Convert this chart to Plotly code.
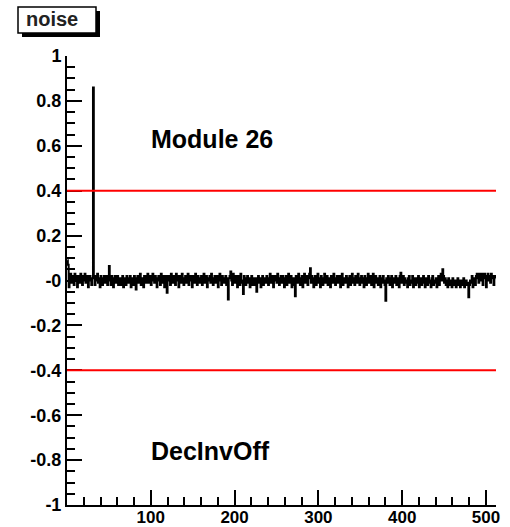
import numpy as np
import plotly.graph_objects as go

# noise per channel (512 channels)
noise = [
    0.09, 0.07, -0.03, 0.02, 0.03, -0.01, 0.02, 0.01, -0.02, 0.03, 0.00, 0.02, -0.03, 0.01, 0.02, -0.01,
    0.03, 0.01, -0.02, 0.02, 0.00, 0.03, -0.01, 0.01, 0.02, -0.03, 0.01, 0.02, 0.00, -0.02, 0.01, 0.86,
    0.01, -0.02, 0.02, 0.00, 0.03, -0.01, 0.01, -0.03, 0.02, 0.01, -0.02, 0.00, 0.02, -0.01, 0.01, 0.02,
    -0.02, 0.00, 0.065, 0.01, -0.02, 0.02, 0.00, -0.03, 0.01, 0.02, -0.01, 0.00, 0.02, -0.02, 0.01, 0.00,
    -0.02, 0.01, 0.02, -0.03, 0.00, 0.01, -0.02, 0.02, 0.01, -0.01, 0.00, 0.02, -0.03, 0.01, 0.00, -0.02,
    0.02, 0.01, -0.04, 0.00, 0.02, -0.01, 0.01, 0.03, -0.02, 0.00, 0.01, -0.03, 0.02, 0.00, -0.01, 0.02,
    0.03, -0.01, 0.00, 0.02, -0.02, 0.01, 0.03, 0.00, -0.01, 0.02, 0.01, -0.03, 0.00, 0.02, 0.01, -0.02,
    0.03, 0.00, -0.01, 0.02, -0.03, 0.01, 0.02, -0.055, 0.00, 0.02, 0.01, -0.02, 0.03, 0.00, -0.01, 0.02,
    0.01, -0.02, 0.03, 0.00, 0.02, -0.03, 0.01, 0.02, -0.01, 0.03, 0.00, -0.02, 0.01, 0.02, -0.01, 0.00,
    0.03, -0.02, 0.01, 0.02, 0.00, -0.03, 0.02, 0.01, -0.01, 0.03, 0.00, -0.02, 0.02, 0.01, -0.01, 0.00,
    0.02, -0.02, 0.01, 0.03, -0.01, 0.00, 0.02, -0.03, 0.01, 0.00, 0.02, -0.01, 0.03, 0.00, -0.02, 0.01,
    0.02, -0.01, 0.00, 0.02, -0.03, 0.01, 0.03, 0.00, -0.02, 0.02, 0.01, -0.01, 0.00, 0.02, -0.02, 0.01,
    -0.085, 0.01, 0.02, 0.04, 0.00, -0.02, 0.03, 0.01, -0.01, 0.02, 0.00, -0.03, 0.02, 0.01, -0.02, 0.03,
    0.00, -0.01, -0.06, 0.02, 0.01, -0.02, 0.00, 0.02, -0.01, 0.01, -0.03, 0.00, 0.02, -0.02, 0.01, 0.00,
    -0.02, 0.01, -0.05, 0.00, 0.02, -0.01, 0.01, -0.03, 0.00, 0.02, -0.02, 0.01, 0.00, -0.01, 0.02, 0.00,
    -0.02, 0.01, 0.03, -0.01, 0.00, 0.02, -0.03, 0.01, 0.02, 0.00, -0.01, 0.03, 0.01, -0.02, 0.00, 0.02,
    -0.01, 0.02, 0.00, -0.03, 0.01, 0.02, -0.02, 0.00, 0.03, -0.01, 0.01, 0.02, -0.03, 0.00, 0.01, -0.02,
    -0.07, 0.02, 0.00, -0.01, 0.03, 0.01, -0.02, 0.00, 0.02, -0.03, 0.01, 0.03, -0.01, 0.00, 0.02, -0.02,
    0.01, 0.03, 0.055, -0.01, 0.02, 0.00, -0.03, 0.01, 0.02, -0.02, 0.00, 0.03, -0.01, 0.01, -0.03, 0.02,
    0.00, -0.02, 0.01, 0.03, -0.01, 0.00, 0.02, -0.02, 0.01, 0.00, -0.03, 0.02, 0.01, -0.01, 0.03, 0.00,
    -0.02, 0.01, 0.02, -0.01, 0.00, 0.02, -0.03, 0.01, 0.03, -0.02, 0.00, 0.01, -0.01, 0.02, 0.00, -0.03,
    0.01, 0.02, -0.02, 0.00, 0.03, -0.01, 0.01, -0.02, 0.02, 0.00, -0.01, 0.03, 0.01, -0.02, 0.00, 0.02,
    -0.01, 0.01, -0.03, 0.02, 0.00, -0.02, 0.01, 0.03, -0.01, 0.00, 0.02, -0.02, 0.01, 0.03, -0.03, 0.00,
    0.02, -0.01, 0.01, -0.02, 0.00, 0.02, -0.03, 0.01, -0.01, 0.02, 0.00, -0.02, -0.09, 0.01, -0.01, 0.02,
    0.00, -0.02, 0.01, 0.02, -0.03, 0.00, 0.01, -0.01, 0.02, -0.02, 0.00, 0.01, -0.03, 0.02, 0.035, -0.01,
    0.00, 0.02, -0.02, 0.01, -0.01, 0.00, -0.03, 0.01, 0.02, -0.02, 0.00, -0.01, 0.02, -0.03, 0.01, 0.00,
    -0.02, 0.01, -0.01, 0.02, -0.03, 0.00, 0.01, -0.02, 0.00, 0.02, -0.01, -0.03, 0.01, 0.00, -0.02, 0.02,
    -0.01, 0.00, -0.03, 0.01, 0.02, -0.02, 0.00, -0.01, 0.01, -0.03, 0.00, 0.02, -0.02, 0.01, 0.03, 0.00,
    0.05, 0.02, -0.01, 0.01, -0.02, 0.00, -0.03, 0.01, -0.01, -0.02, 0.00, -0.03, 0.01, -0.02, -0.01, 0.00,
    -0.03, -0.01, 0.01, -0.02, 0.00, -0.03, -0.01, 0.00, -0.02, 0.01, -0.03, -0.01, 0.00, -0.02, -0.01, -0.075,
    -0.02, 0.00, -0.01, 0.02, -0.03, 0.01, 0.00, -0.02, 0.02, 0.03, 0.01, -0.01, 0.03, 0.02, 0.00, 0.03,
    -0.02, 0.02, 0.03, 0.01, -0.03, 0.02, 0.03, 0.00, 0.02, -0.01, 0.03, 0.02, 0.01, -0.02, 0.02, 0.01,
]
channels = np.arange(len(noise)) + 0.5

thresholds = [0.4, -0.4]
x_tickvals = [0, 100, 200, 300, 400, 500]
x_ticktext = ["", "100", "200", "300", "400", "500"]
y_tickvals = [1, 0.8, 0.6, 0.4, 0.2, 0, -0.2, -0.4, -0.6, -0.8, -1]
y_ticktext = ["1", "0.8", "0.6", "0.4", "0.2", "-0", "-0.2", "-0.4", "-0.6", "-0.8", "-1"]
module_label = "Module 26"
mode_label = "DecInvOff"
title_text = "noise"

FONT = "Liberation Sans"
W, H = 510, 527
ML, MR, MT, MB = 67, 14, 56, 22
PW, PH = W - ML - MR, H - MT - MB


def px(x):
    return (x - ML) / PW


def py(y):
    return (H - MB - y) / PH


fig = go.Figure()
fig.add_trace(go.Scatter(
    x=channels, y=noise, mode="lines", line=dict(color="black", width=2, shape="hvh"),
    showlegend=False, hoverinfo="skip"))

for t in thresholds:
    fig.add_shape(type="line", xref="x", yref="y", x0=0, x1=512, y0=t, y1=t,
                  line=dict(color="#ff0000", width=2))

fig.update_layout(
    width=W, height=H,
    margin=dict(l=ML, r=MR, t=MT, b=MB, autoexpand=False),
    paper_bgcolor="white", plot_bgcolor="white",
    font=dict(family=FONT, color="black", size=13),
)
fig.update_xaxes(
    range=[0, 512], showgrid=False, zeroline=False, automargin=False,
    showline=True, linecolor="black", linewidth=2,
    tickmode="array", tickvals=x_tickvals, ticktext=x_ticktext,
    ticks="inside", ticklen=15, tickwidth=1.8, tickcolor="black",
    tickfont=dict(family=FONT, size=17, weight="bold"),
    ticklabelstandoff=-4,
    minor=dict(tickmode="linear", tick0=0, dtick=20, ticks="inside", ticklen=8,
               tickwidth=1.8, tickcolor="black", showgrid=False),
)
fig.update_yaxes(
    range=[-1, 1], showgrid=False, zeroline=False, automargin=False,
    showline=True, linecolor="black", linewidth=2,
    tickmode="array", tickvals=y_tickvals, ticktext=y_ticktext,
    ticks="inside", ticklen=15, tickwidth=1.8, tickcolor="black",
    tickfont=dict(family=FONT, size=18, weight="bold"),
    minor=dict(tickmode="linear", tick0=-1, dtick=0.05, ticks="inside", ticklen=8,
               tickwidth=1.8, tickcolor="black", showgrid=False),
)

fig.add_annotation(xref="x", yref="y", x=173, y=0.63, text=module_label, showarrow=False,
                   font=dict(family=FONT, size=25, weight="bold", color="black"))
fig.add_annotation(xref="x", yref="y", x=171, y=-0.76, text=mode_label, showarrow=False,
                   font=dict(family=FONT, size=25, weight="bold", color="black"))

# title box with shadow
fig.add_shape(type="rect", xref="paper", yref="paper", x0=px(22), x1=px(100), y0=py(37), y1=py(11),
              fillcolor="black", line=dict(width=0), layer="above")
fig.add_shape(type="rect", xref="paper", yref="paper", x0=px(18), x1=px(96), y0=py(33), y1=py(7),
              fillcolor="white", line=dict(color="black", width=1.5), layer="above")
fig.add_annotation(xref="paper", yref="paper", x=px(52), y=py(19), text=title_text, showarrow=False,
                   xanchor="center", yanchor="middle",
                   font=dict(family=FONT, size=20, weight="bold", color="#222222"))

fig.write_html("out.html")
